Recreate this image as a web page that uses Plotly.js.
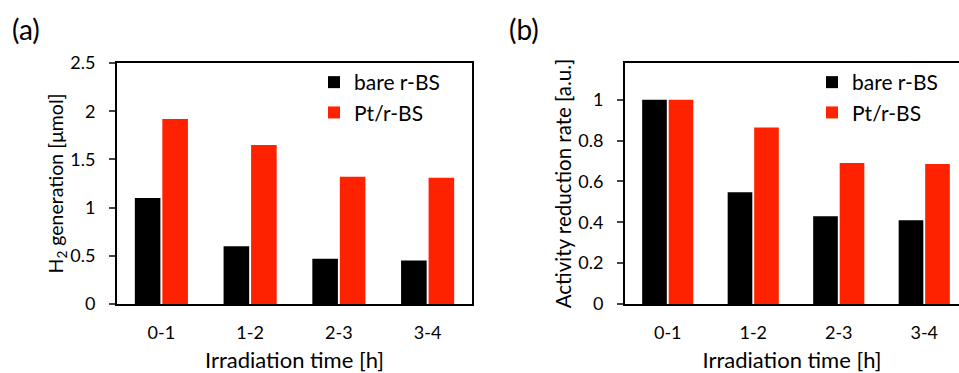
<!DOCTYPE html>
<html>
<head>
<meta charset="utf-8">
<script src="https://cdn.plot.ly/plotly-3.0.1.min.js"></script>
<style>html,body{margin:0;padding:0;background:#fff;}#chart{width:959px;height:373px;}</style>
</head>
<body>
<div id="chart"></div>
<script>
const categories = ["0-1", "1-2", "2-3", "3-4"];
const seriesNames = ["bare r-BS", "Pt/r-BS"];
// Panel (a): H2 generation [μmol]
const h2Bare = [1.10, 0.60, 0.47, 0.45];
const h2Pt = [1.92, 1.65, 1.32, 1.31];
// Panel (b): Activity reduction rate [a.u.]
const rateBare = [1.00, 0.547, 0.43, 0.41];
const ratePt = [1.00, 0.864, 0.69, 0.685];

const BLACK = "#000000";
const RED = "#ff2200";
const FONT = "Lato, 'Open Sans', sans-serif";
const W = 959, H = 373;
const px = v => v / W;
const py = v => (H - v) / H;

const traces = [
  {type: "bar", x: categories, y: h2Bare, name: seriesNames[0], marker: {color: BLACK}, xaxis: "x", yaxis: "y", legend: "legend"},
  {type: "bar", x: categories, y: h2Pt, name: seriesNames[1], marker: {color: RED}, xaxis: "x", yaxis: "y", legend: "legend"},
  {type: "bar", x: categories, y: rateBare, name: seriesNames[0], marker: {color: BLACK}, xaxis: "x2", yaxis: "y2", legend: "legend2"},
  {type: "bar", x: categories, y: ratePt, name: seriesNames[1], marker: {color: RED}, xaxis: "x2", yaxis: "y2", legend: "legend2"}
];

const axisCommon = {
  showline: true, linewidth: 2, linecolor: "#000", showgrid: false, zeroline: false,
  tickfont: {family: FONT, size: 18, color: "#000"}
};
const yDomain = [py(304), py(63)];

const layout = {
  width: W, height: H,
  margin: {l: 0, r: 0, t: 0, b: 0},
  paper_bgcolor: "#fff", plot_bgcolor: "#fff",
  font: {family: FONT, color: "#000"},
  barmode: "group", bargap: 0.38, bargroupgap: 0.07,
  showlegend: true,
  xaxis: Object.assign({}, axisCommon, {
    domain: [px(117), px(472)], anchor: "y", type: "category",
    range: [-0.5, 3.5], mirror: true, ticks: "", ticklabelstandoff: 11,
    title: {text: "Irradiation time [h]", font: {family: FONT, size: 22}, standoff: 19}
  }),
  yaxis: Object.assign({}, axisCommon, {
    domain: yDomain, anchor: "x", range: [0, 2.5], dtick: 0.5, tick0: 0,
    mirror: true, ticks: "outside", ticklen: 6, tickwidth: 2, ticklabelstandoff: 10,
    title: {text: "H<sub>2</sub> generation [μmol]", font: {family: FONT, size: 19.5}, standoff: 1}
  }),
  xaxis2: Object.assign({}, axisCommon, {
    domain: [px(625), 1], anchor: "y2", type: "category",
    range: [-0.5, 3.5 - (967 - 959) / 85.5], mirror: true, ticks: "", ticklabelstandoff: 11,
    title: {text: "Irradiation time [h]", font: {family: FONT, size: 22}, standoff: 19}
  }),
  yaxis2: Object.assign({}, axisCommon, {
    domain: yDomain, anchor: "x2", range: [0, 1.18], dtick: 0.2, tick0: 0,
    mirror: false, ticks: "outside", ticklen: 6, tickwidth: 2, ticklabelstandoff: 10,
    title: {text: "Activity reduction rate [a.u.]", font: {family: FONT, size: 20.5}, standoff: 1}
  }),
  legend: {x: px(314), xanchor: "left", y: py(62), yanchor: "top", bgcolor: "rgba(0,0,0,0)",
    font: {family: FONT, size: 21, color: "#000"}, itemwidth: 30},
  legend2: {x: px(812), xanchor: "left", y: py(62), yanchor: "top", bgcolor: "rgba(0,0,0,0)",
    font: {family: FONT, size: 21, color: "#000"}, itemwidth: 30},
  annotations: [
    {text: "(a)", xref: "paper", yref: "paper", x: px(10), y: py(29), xanchor: "left", yanchor: "middle", showarrow: false, font: {family: FONT, size: 28}},
    {text: "(b)", xref: "paper", yref: "paper", x: px(507), y: py(29), xanchor: "left", yanchor: "middle", showarrow: false, font: {family: FONT, size: 28}}
  ]
};

Plotly.newPlot("chart", traces, layout, {displayModeBar: false, staticPlot: true});
</script>
</body>
</html>
